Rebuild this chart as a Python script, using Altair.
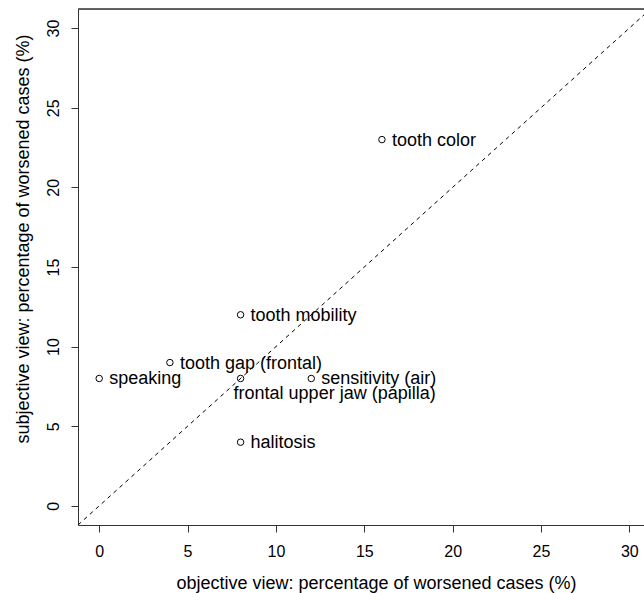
import altair as alt
import pandas as pd

labels = ["speaking", "tooth gap (frontal)", "frontal upper jaw (papilla)",
          "sensitivity (air)", "tooth mobility", "halitosis", "tooth color"]
objective = [0, 4, 8, 12, 8, 8, 16]
subjective = [8, 9, 8, 8, 12, 4, 23]
tick_vals = [0, 5, 10, 15, 20, 25, 30]
diag = [-1.2, 31.2]

df = pd.DataFrame({"label": labels, "objective": objective, "subjective": subjective})
df_line = pd.DataFrame({"x": diag, "y": diag})

FONT = "Liberation Sans"
W, H = 566, 516

xscale = alt.Scale(domain=[-1.2, 30.83], nice=False, zero=False)
yscale = alt.Scale(domain=[-1.2, 31.2], nice=False, zero=False)

xaxis = alt.Axis(values=tick_vals, grid=False, tickSize=7, labelPadding=11,
                 labelFontSize=16, labelFont=FONT, labelColor="black",
                 domainColor="#333", tickColor="#333", labelFlush=False,
                 title="objective view: percentage of worsened cases (%)",
                 titleFont=FONT, titleFontSize=18, titleFontWeight="normal",
                 titleColor="black", titleX=298, titleY=63,
                 titleAlign="center", titleBaseline="alphabetic")
yaxis = alt.Axis(values=tick_vals, grid=False, tickSize=7, labelPadding=13,
                 labelAngle=270, labelAlign="center", labelBaseline="alphabetic",
                 labelFontSize=16, labelFont=FONT, labelColor="black",
                 domainColor="#333", tickColor="#333", labelFlush=False,
                 title="subjective view: percentage of worsened cases (%)",
                 titleFont=FONT, titleFontSize=18, titleFontWeight="normal",
                 titleColor="black", titleX=-50, titleY=229.5, titleAngle=270,
                 titleAlign="center", titleBaseline="alphabetic")

line = alt.Chart(df_line).mark_line(clip=True, color="black", strokeWidth=1,
                                    strokeDash=[4, 4]).encode(
    x=alt.X("x:Q", scale=xscale, axis=xaxis),
    y=alt.Y("y:Q", scale=yscale, axis=yaxis),
)

top = alt.Chart(df_line).mark_rule(color="#333", strokeWidth=1).encode(
    x=alt.value(0), x2=alt.value(W), y=alt.value(0)
)

pts = alt.Chart(df).mark_point(shape="circle", filled=False, color="black",
                               size=42, strokeWidth=1, opacity=1).encode(
    x=alt.X("objective:Q", scale=xscale),
    y=alt.Y("subjective:Q", scale=yscale),
)

txt = alt.Chart(df).transform_filter(
    alt.datum.label != "frontal upper jaw (papilla)"
).mark_text(align="left", baseline="alphabetic", dx=10, dy=6, fontSize=18,
            font=FONT, color="black").encode(
    x=alt.X("objective:Q", scale=xscale),
    y=alt.Y("subjective:Q", scale=yscale),
    text="label:N",
)

txt2 = alt.Chart(df).transform_filter(
    alt.datum.label == "frontal upper jaw (papilla)"
).mark_text(align="left", baseline="alphabetic", dx=-7, dy=21, fontSize=18,
            font=FONT, color="black").encode(
    x=alt.X("objective:Q", scale=xscale),
    y=alt.Y("subjective:Q", scale=yscale),
    text="label:N",
)

chart = alt.layer(line, top, pts, txt, txt2).properties(
    width=W, height=H,
    padding={"left": 78, "top": 9, "right": 0, "bottom": 68},
    autosize=alt.AutoSizeParams(type="none"),
).configure_view(stroke=None).configure(background="white")

chart.save("out.html", embed_options={"renderer": "svg", "actions": False})
